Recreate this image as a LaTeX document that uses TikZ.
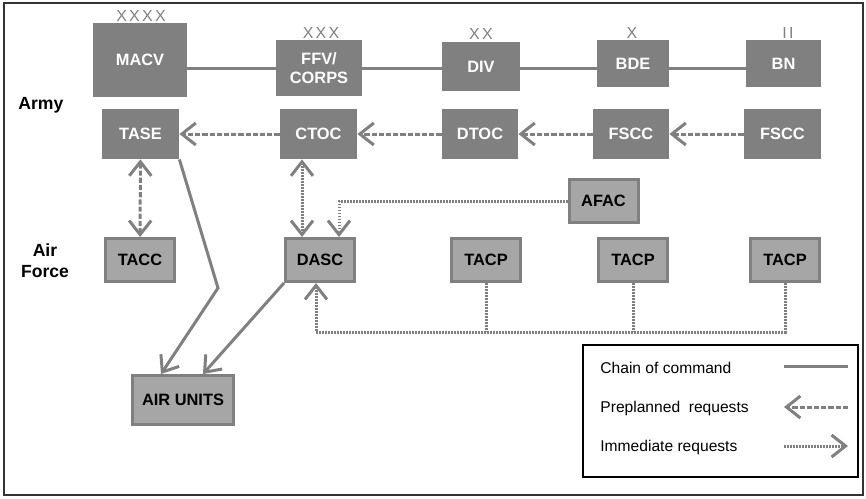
\documentclass[tikz,border=0pt]{standalone}
\usepackage{fontspec}
\setmainfont{Liberation Sans}
\newfontfamily\echelonfont[LetterSpace=14]{Liberation Sans}
\usepackage{xcolor}
\usepackage{tikz}
\usetikzlibrary{positioning, arrows.meta}

\definecolor{armygray}{HTML}{808080}
\definecolor{airgray}{HTML}{A6A6A6}
\definecolor{framegray}{HTML}{333333}

\begin{document}
\begin{tikzpicture}[
    x=0.5pt, y=-0.5pt,
    army/.style={rectangle, fill=armygray, text=white, font=\fontsize{8.2}{9.5}\selectfont\bfseries, align=center, inner sep=0pt},
    airforce/.style={rectangle, fill=airgray, draw=armygray, line width=1.5pt, font=\fontsize{8.2}{9.5}\selectfont\bfseries, inner sep=0pt, minimum width=34.5pt, minimum height=21.5pt},
    echelon/.style={text=armygray, font=\fontsize{8}{9}\echelonfont, inner sep=0pt},
    side/.style={font=\fontsize{8.8}{10.5}\selectfont\bfseries, align=center, inner sep=0pt},
    keytext/.style={anchor=west, font=\fontsize{7.8}{9}\selectfont, inner sep=0pt},
    command/.style={draw=armygray, line width=1.5pt},
    preplanned/.style={draw=armygray, line width=1.5pt, dash pattern=on 2.6pt off 1pt},
    immediate/.style={draw=armygray, line width=1.5pt, dash pattern=on 0.9pt off 0.6pt},
    >={Straight Barb[length=7pt, width=11pt]}
]

\useasboundingbox (0,0) rectangle (866,498);
\draw[framegray, line width=1.2pt] (4,3) rectangle (863,495);

\node[side, anchor=west] (army) at (18,105) {Army};
\node[side] (airlabel) at (45,261) {Air\\Force};

% echelons
\node[army, minimum width=47pt, minimum height=37pt] (macv) at (140,60) {MACV};
\node[army, minimum width=43pt, minimum height=28pt] (ffv) at (319,68) {FFV/\\CORPS};
\node[army, minimum width=39pt, minimum height=24.5pt] (div) at (481,66.5) {DIV};
\node[army, minimum width=36pt, minimum height=23.5pt] (bde) at (633,63.5) {BDE};
\node[army, minimum width=37.5pt, minimum height=23.5pt] (bn) at (783.5,63.5) {BN};

\node[echelon] (macvsize) at (141,16) {XXXX};
\node[echelon] (ffvsize) at (321,33) {XXX};
\node[echelon] (divsize) at (481,34) {XX};
\node[echelon] (bdesize) at (632,33) {X};
\node[echelon] (bnsize) at (788,33) {II};

\draw[command] (macv.east |- ffv.center) -- (ffv.west);
\draw[command] (ffv.east) -- (div.west |- ffv.east);
\draw[command] (div.east |- ffv.east) -- (bde.west |- ffv.east);
\draw[command] (bde.east |- ffv.east) -- (bn.west |- ffv.east);

% army fire support
\node[army, minimum width=38.5pt, minimum height=25pt] (tase) at (140.5,134) {TASE};
\node[army, minimum width=38.5pt, minimum height=25pt] (ctoc) at (318.5,134) {CTOC};
\node[army, minimum width=38pt, minimum height=25pt] (dtoc) at (480,134) {DTOC};
\node[army, minimum width=38pt, minimum height=25pt] (fscc) at (631,134) {FSCC};
\node[army, minimum width=38.5pt, minimum height=25pt] (bnfscc) at (782.5,134) {FSCC};

\draw[preplanned, ->] (bnfscc) -- (fscc);
\draw[preplanned, ->] (fscc) -- (dtoc);
\draw[preplanned, ->] (dtoc) -- (ctoc);
\draw[preplanned, ->] (ctoc) -- (tase);

% air force
\node[airforce] (afac) at (603.5,201) {AFAC};
\node[airforce] (tacc) at (140,260) {TACC};
\node[airforce] (dasc) at (320,260) {DASC};
\node[airforce] (tacpa) at (486,260) {TACP};
\node[airforce] (tacpb) at (633,260) {TACP};
\node[airforce] (tacpc) at (785,260) {TACP};
\node[airforce, minimum width=50.5pt, minimum height=24.5pt] (units) at (183,400) {AIR UNITS};

\draw[preplanned, <->] (tase) -- (tacc);
\draw[immediate, <->] ([xshift=-8.25pt]ctoc.south) -- ([xshift=-8.25pt]ctoc.south |- dasc.north);
\draw[immediate, ->] (afac.west) -| ([xshift=9.5pt]dasc.north);

\coordinate (bus) at (316,332);
\draw[immediate, ->] (tacpc.south) |- (bus) -- ([xshift=-2pt]dasc.south);
\draw[immediate] (tacpa.south) -- (tacpa.south |- bus);
\draw[immediate] (tacpb.south) -- (tacpb.south |- bus);

\coordinate (bend) at (218,288);
\draw[command, ->] (tase.south east) -- (bend) -- ([xshift=-11pt]units.north);
\draw[command, ->] (dasc.south west) -- ([xshift=10pt]units.north);

% key
\node[draw=black, line width=1.3pt, minimum width=137.5pt, minimum height=66pt, inner sep=0pt] (key) at (720.5,411) {};
\node[keytext] (keycmd) at (600,368) {Chain of command};
\node[keytext] (keypre) at (600,408) {Preplanned\ \ requests};
\node[keytext] (keyimm) at (600,447) {Immediate requests};

\coordinate (cmdleft) at (784,366);
\coordinate (cmdright) at (848,366);
\coordinate (preleft) at (784,407);
\coordinate (preright) at (848,407);
\coordinate (immleft) at (784,446);
\coordinate (immright) at (848,446);

\draw[command] (cmdleft) -- (cmdright);
\draw[preplanned, ->] (preright) -- (preleft);
\draw[immediate, ->] (immleft) -- (immright);

\end{tikzpicture}
\end{document}
